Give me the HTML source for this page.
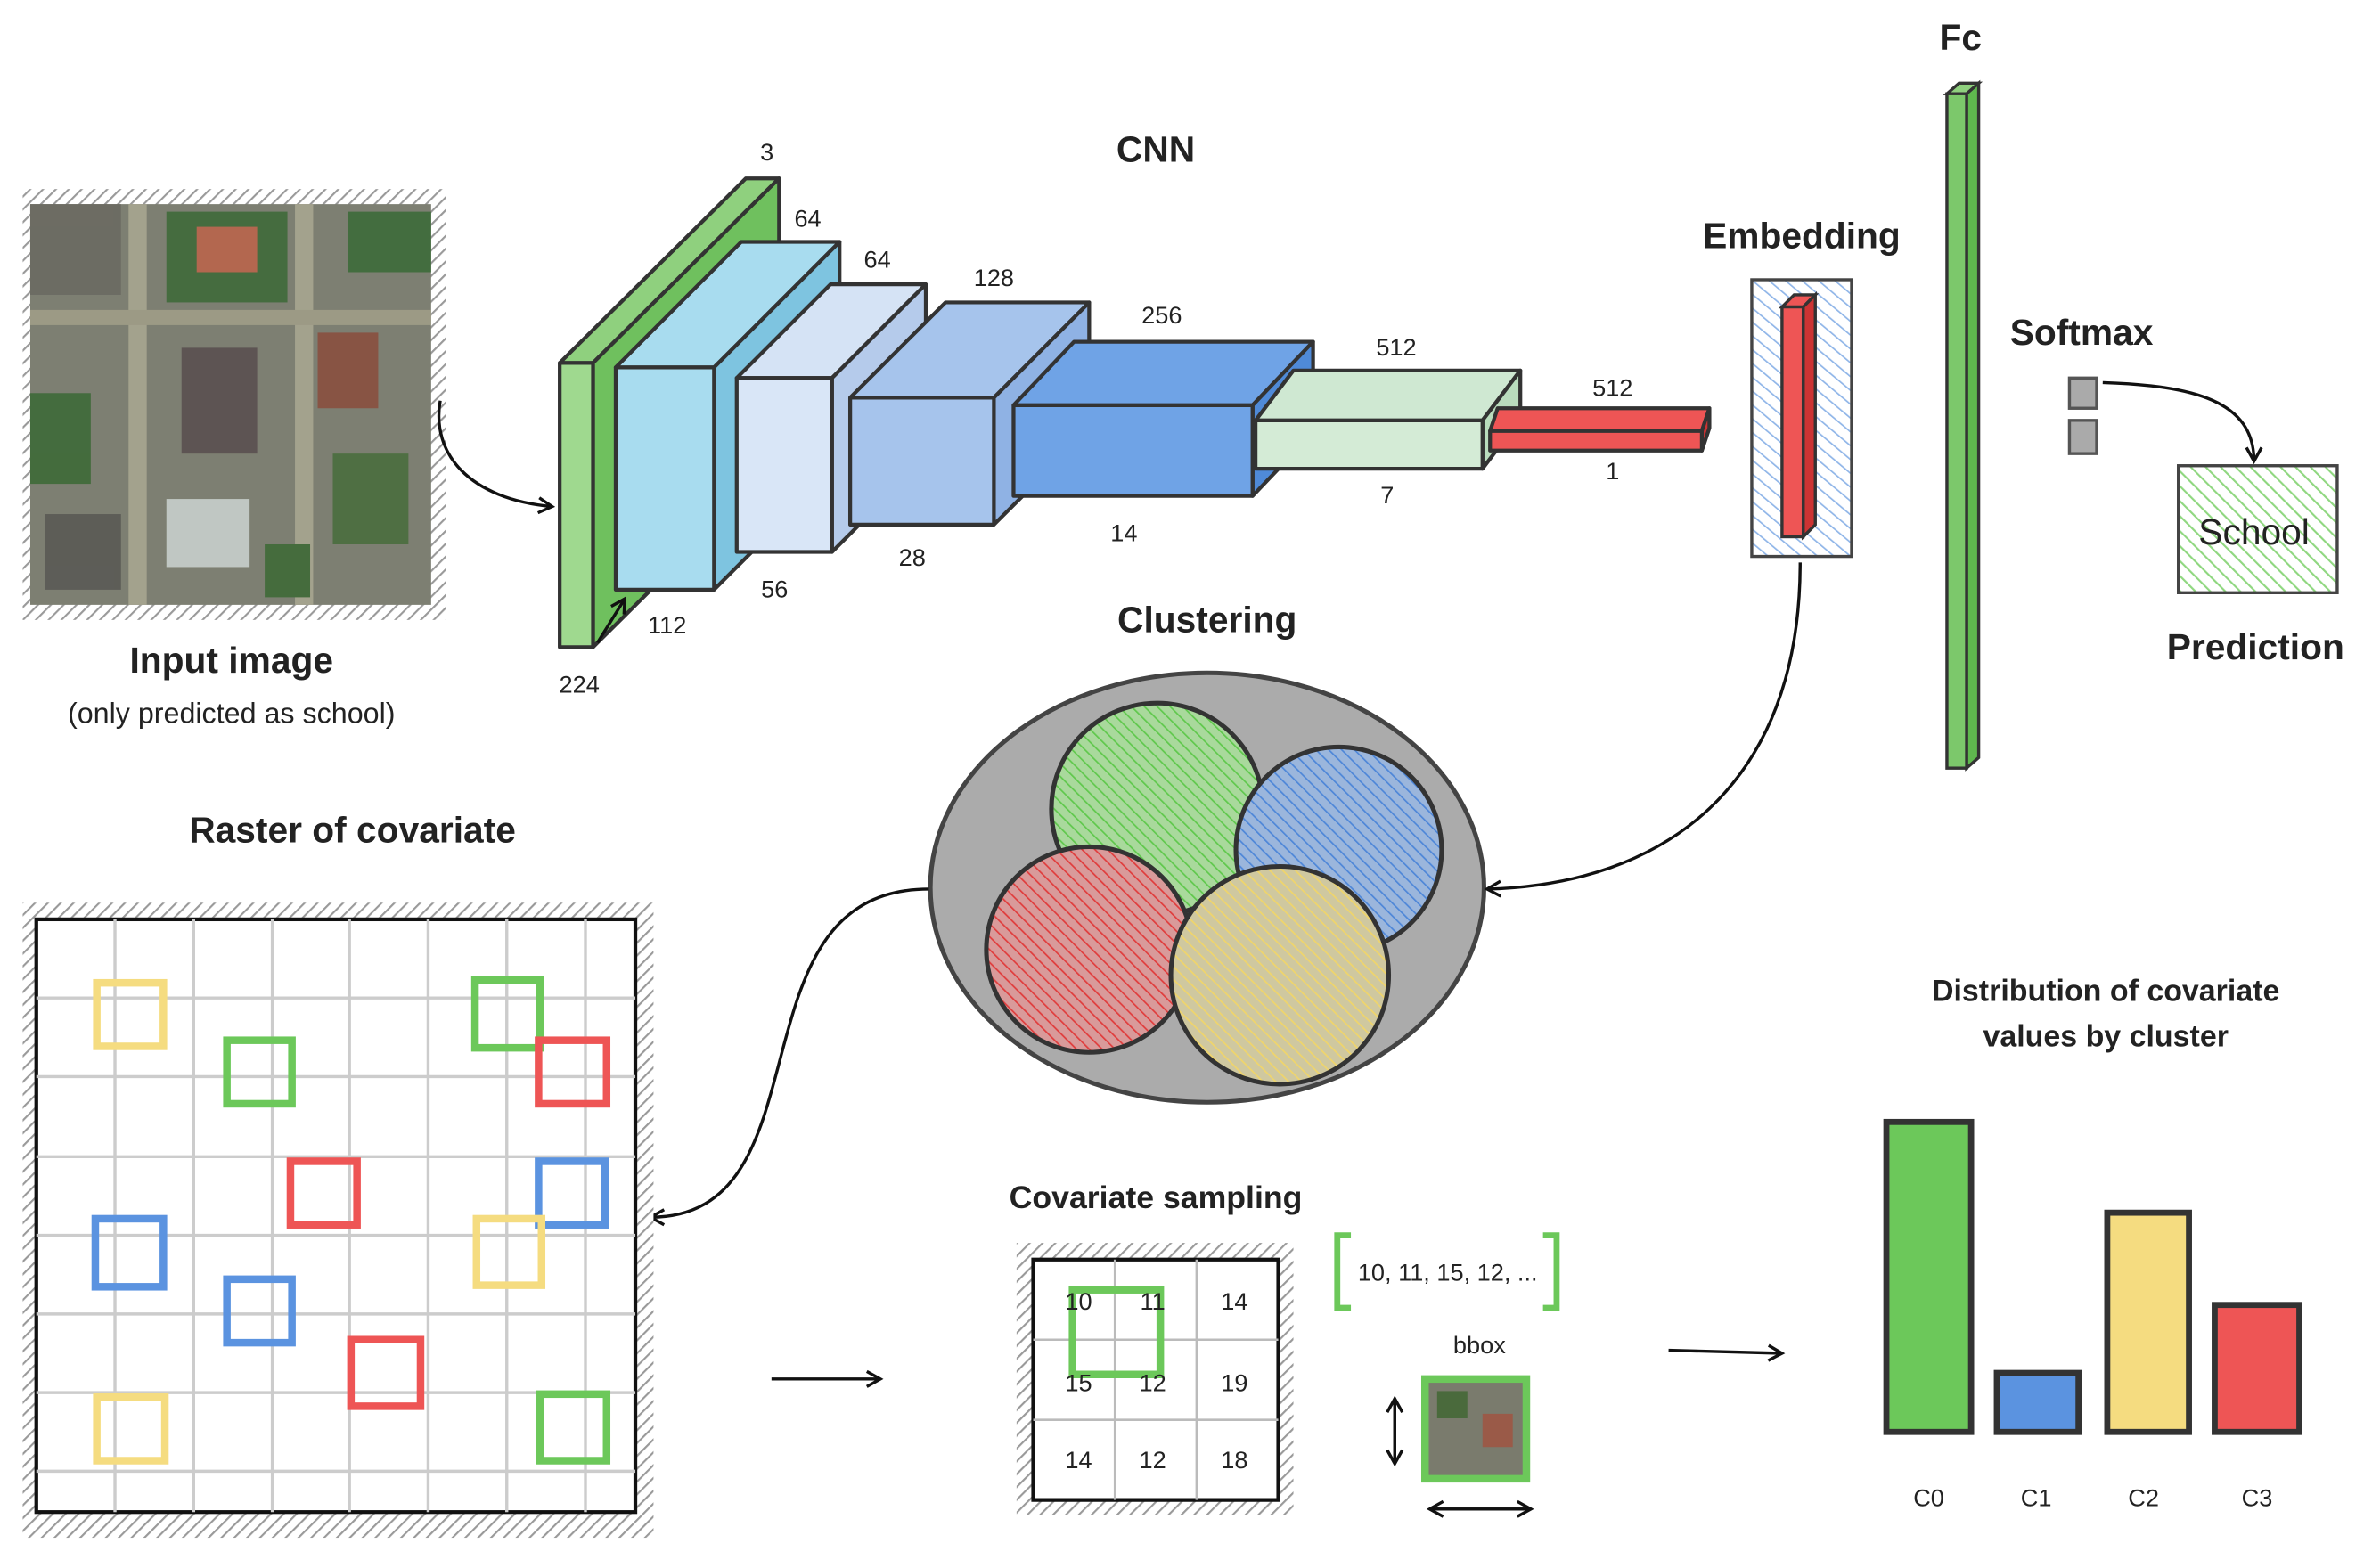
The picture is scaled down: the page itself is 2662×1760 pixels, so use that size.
<!DOCTYPE html>
<html><head><meta charset="utf-8"><style>html,body{margin:0;padding:0;background:#fff}svg{display:block}text{font-family:"Liberation Sans",sans-serif;fill:#222}</style></head><body>
<svg width="2662" height="1760" viewBox="0 0 1568 1037" preserveAspectRatio="none" xmlns="http://www.w3.org/2000/svg">
<defs>
<pattern id="hg" width="6" height="6" patternUnits="userSpaceOnUse" patternTransform="rotate(45)"><rect width="6" height="6" fill="#fff"/><line x1="0" y1="0" x2="0" y2="6" stroke="#999" stroke-width="2.5"/></pattern>
<pattern id="hb" width="7" height="7" patternUnits="userSpaceOnUse" patternTransform="rotate(-50)"><rect width="7" height="7" fill="#fff"/><line x1="0" y1="0" x2="0" y2="7" stroke="#8fb5e8" stroke-width="2"/></pattern>
<pattern id="hgr" width="7" height="7" patternUnits="userSpaceOnUse" patternTransform="rotate(-45)"><rect width="7" height="7" fill="#fff"/><line x1="0" y1="0" x2="0" y2="7" stroke="#8fd77f" stroke-width="2.5"/></pattern>
<pattern id="cg" width="6" height="6" patternUnits="userSpaceOnUse" patternTransform="rotate(-45)"><rect width="6" height="6" fill="#a9d99c"/><line x1="0" y1="0" x2="0" y2="6" stroke="#5fc84c" stroke-width="2"/></pattern>
<pattern id="cb" width="6" height="6" patternUnits="userSpaceOnUse" patternTransform="rotate(-45)"><rect width="6" height="6" fill="#9bb6dc"/><line x1="0" y1="0" x2="0" y2="6" stroke="#4d86d8" stroke-width="2"/></pattern>
<pattern id="cr" width="6" height="6" patternUnits="userSpaceOnUse" patternTransform="rotate(-45)"><rect width="6" height="6" fill="#d99a9a"/><line x1="0" y1="0" x2="0" y2="6" stroke="#e03c3c" stroke-width="2"/></pattern>
<pattern id="cy" width="6" height="6" patternUnits="userSpaceOnUse" patternTransform="rotate(-45)"><rect width="6" height="6" fill="#cfc8a0"/><line x1="0" y1="0" x2="0" y2="6" stroke="#f0d56a" stroke-width="2"/></pattern>
<marker id="ar" markerWidth="12" markerHeight="12" refX="10" refY="6" orient="auto" markerUnits="userSpaceOnUse"><path d="M1,1 L10,6 L1,11" fill="none" stroke="#111" stroke-width="2"/></marker>
</defs>

<!-- Input image -->
<rect x="15" y="125" width="280" height="285" fill="url(#hg)"/>
<rect x="20" y="135" width="265" height="265" fill="#7d7f72"/>
<g opacity="0.9">
<rect x="20" y="135" width="60" height="60" fill="#6b6a62"/><rect x="110" y="140" width="80" height="60" fill="#3f6b3a"/><rect x="130" y="150" width="40" height="30" fill="#b9654c"/>
<rect x="230" y="140" width="55" height="40" fill="#3d6c3a"/><rect x="20" y="260" width="40" height="60" fill="#3e6a38"/><rect x="110" y="330" width="55" height="45" fill="#c8cfcc"/>
<rect x="120" y="230" width="50" height="70" fill="#5a5050"/><rect x="85" y="135" width="12" height="265" fill="#a8a690"/><rect x="195" y="135" width="12" height="265" fill="#a8a690"/>
<rect x="20" y="205" width="265" height="10" fill="#a09e88"/><rect x="210" y="220" width="40" height="50" fill="#8a5040"/><rect x="220" y="300" width="50" height="60" fill="#4a6e3e"/>
<rect x="30" y="340" width="50" height="50" fill="#5a5a55"/><rect x="175" y="360" width="30" height="35" fill="#3f6a38"/>
</g>
<text x="153" y="445" font-size="24" font-weight="bold" text-anchor="middle">Input image</text>
<text x="153" y="478" font-size="19" text-anchor="middle">(only predicted as school)</text>
<path d="M291,265 C285,300 310,330 365,335" fill="none" stroke="#111" stroke-width="2" marker-end="url(#ar)"/>

<!-- CNN blocks -->
<g stroke="#333" stroke-width="2.5" stroke-linejoin="round">
<polygon points="370,240 493,118 515,118 392,240" fill="#8fd07e"/><polygon points="392,240 515,118 515,306 392,428" fill="#6fc05e"/><rect x="370" y="240" width="22" height="188" fill="#9fd98f"/>
<polygon points="407,243 490,160 555,160 472,243" fill="#a8dcef"/><polygon points="472,243 555,160 555,307 472,390" fill="#7ec4e0"/><rect x="407" y="243" width="65" height="147" fill="#a8dcef"/>
<polygon points="487,250 549,188 612,188 550,250" fill="#d5e3f5"/><polygon points="550,250 612,188 612,303 550,365" fill="#b5cbeb"/><rect x="487" y="250" width="63" height="115" fill="#d9e6f7"/>
<polygon points="562,263 625,200 720,200 657,263" fill="#a6c4ec"/><polygon points="657,263 720,200 720,284 657,347" fill="#8fb2e4"/><rect x="562" y="263" width="95" height="84" fill="#a6c4ec"/>
<polygon points="670,268 710,226 868,226 828,268" fill="#6fa3e6"/><polygon points="828,268 868,226 868,286 828,328" fill="#4f8ad8"/><rect x="670" y="268" width="158" height="60" fill="#6fa3e6"/>
<polygon points="830,278 855,245 1005,245 980,278" fill="#cfe8d2"/><polygon points="980,278 1005,245 1005,277 980,310" fill="#b9dcbd"/><rect x="830" y="278" width="150" height="32" fill="#d4ebd6"/>
<polygon points="985,285 990,270 1130,270 1125,285" fill="#e55"/><polygon points="1125,285 1130,270 1130,283 1125,298" fill="#c33"/><rect x="985" y="285" width="140" height="13" fill="#e55"/>
</g>
<path d="M395,425 L413,396" stroke="#111" stroke-width="2" marker-end="url(#ar)"/>
<g font-size="16" text-anchor="middle">
<text x="507" y="106">3</text><text x="534" y="150">64</text><text x="580" y="177">64</text><text x="657" y="189">128</text><text x="768" y="214">256</text><text x="923" y="235">512</text><text x="1066" y="262">512</text>
<text x="383" y="458">224</text><text x="441" y="419">112</text><text x="512" y="395">56</text><text x="603" y="374">28</text><text x="743" y="358">14</text><text x="917" y="333">7</text><text x="1066" y="317">1</text>
</g>
<text x="764" y="107" font-size="24" font-weight="bold" text-anchor="middle">CNN</text>

<!-- Embedding -->
<text x="1191" y="164" font-size="24" font-weight="bold" text-anchor="middle">Embedding</text>
<rect x="1158" y="185" width="66" height="183" fill="url(#hb)" stroke="#444" stroke-width="2"/>
<polygon points="1178,203 1186,195 1200,195 1192,203" fill="#e55" stroke="#333" stroke-width="2"/>
<polygon points="1192,203 1200,195 1200,347 1192,355" fill="#c33" stroke="#333" stroke-width="2"/>
<rect x="1178" y="203" width="14" height="152" fill="#e55" stroke="#333" stroke-width="2"/>

<!-- Fc -->
<text x="1296" y="33" font-size="24" font-weight="bold" text-anchor="middle">Fc</text>
<polygon points="1287,62 1295,55 1308,55 1300,62" fill="#8fd07e" stroke="#333" stroke-width="2"/>
<polygon points="1300,62 1308,55 1308,501 1300,508" fill="#5fb84e" stroke="#333" stroke-width="2"/>
<rect x="1287" y="62" width="13" height="446" fill="#7cc86b" stroke="#333" stroke-width="2"/>

<!-- Softmax -->
<text x="1376" y="228" font-size="24" font-weight="bold" text-anchor="middle">Softmax</text>
<rect x="1368" y="250" width="18" height="20" fill="#aaa" stroke="#555" stroke-width="2"/>
<rect x="1368" y="278" width="18" height="22" fill="#aaa" stroke="#555" stroke-width="2"/>
<path d="M1390,253 C1450,255 1490,265 1490,305" fill="none" stroke="#111" stroke-width="2" marker-end="url(#ar)"/>
<rect x="1440" y="308" width="105" height="84" fill="url(#hgr)" stroke="#444" stroke-width="2"/>
<text x="1490" y="360" font-size="24" text-anchor="middle">School</text>
<text x="1491" y="436" font-size="24" font-weight="bold" text-anchor="middle">Prediction</text>

<!-- Clustering -->
<text x="798" y="418" font-size="24" font-weight="bold" text-anchor="middle">Clustering</text>
<ellipse cx="798" cy="587" rx="183" ry="142" fill="#ababab" stroke="#444" stroke-width="3"/>
<circle cx="765" cy="535" r="70" fill="url(#cg)" stroke="#333" stroke-width="3"/>
<circle cx="885" cy="562" r="68" fill="url(#cb)" stroke="#333" stroke-width="3"/>
<circle cx="720" cy="628" r="68" fill="url(#cr)" stroke="#333" stroke-width="3"/>
<circle cx="846" cy="645" r="72" fill="url(#cy)" stroke="#333" stroke-width="3"/>
<path d="M1190,372 C1190,520 1100,585 983,588" fill="none" stroke="#111" stroke-width="2" marker-end="url(#ar)"/>
<path d="M614,588 C480,588 550,805 430,805" fill="none" stroke="#111" stroke-width="2" marker-end="url(#ar)"/>

<!-- Raster -->
<text x="233" y="557" font-size="24" font-weight="bold" text-anchor="middle">Raster of covariate</text>
<rect x="15" y="597" width="417" height="420" fill="url(#hg)"/>
<rect x="24" y="608" width="396" height="392" fill="#fff" stroke="#111" stroke-width="2.5"/>
<g stroke="#ccc" stroke-width="2">
<line x1="76" y1="608" x2="76" y2="1000"/><line x1="128" y1="608" x2="128" y2="1000"/><line x1="180" y1="608" x2="180" y2="1000"/><line x1="231" y1="608" x2="231" y2="1000"/><line x1="283" y1="608" x2="283" y2="1000"/><line x1="335" y1="608" x2="335" y2="1000"/><line x1="387" y1="608" x2="387" y2="1000"/>
<line x1="24" y1="660" x2="420" y2="660"/><line x1="24" y1="712" x2="420" y2="712"/><line x1="24" y1="765" x2="420" y2="765"/><line x1="24" y1="817" x2="420" y2="817"/><line x1="24" y1="869" x2="420" y2="869"/><line x1="24" y1="921" x2="420" y2="921"/><line x1="24" y1="973" x2="420" y2="973"/>
</g>
<g fill="none" stroke-width="5">
<rect x="64" y="650" width="44" height="42" stroke="#f5dc80"/>
<rect x="150" y="688" width="43" height="42" stroke="#6cc85a"/>
<rect x="314" y="648" width="43" height="45" stroke="#6cc85a"/>
<rect x="356" y="688" width="45" height="42" stroke="#e55"/>
<rect x="192" y="768" width="44" height="42" stroke="#e55"/>
<rect x="356" y="768" width="44" height="42" stroke="#5b93e0"/>
<rect x="63" y="806" width="45" height="45" stroke="#5b93e0"/>
<rect x="315" y="806" width="43" height="44" stroke="#f5dc80"/>
<rect x="150" y="846" width="43" height="42" stroke="#5b93e0"/>
<rect x="232" y="886" width="46" height="44" stroke="#e55"/>
<rect x="64" y="924" width="45" height="42" stroke="#f5dc80"/>
<rect x="357" y="922" width="44" height="44" stroke="#6cc85a"/>
</g>
<path d="M510,912 L582,912" stroke="#111" stroke-width="2" marker-end="url(#ar)"/>

<!-- Covariate sampling -->
<text x="764" y="799" font-size="21" font-weight="bold" text-anchor="middle">Covariate sampling</text>
<rect x="672" y="822" width="183" height="180" fill="url(#hg)"/>
<rect x="683" y="833" width="162" height="159" fill="#fff" stroke="#111" stroke-width="2.5"/>
<g stroke="#bbb" stroke-width="1.5"><line x1="737" y1="833" x2="737" y2="992"/><line x1="791" y1="833" x2="791" y2="992"/><line x1="683" y1="886" x2="845" y2="886"/><line x1="683" y1="939" x2="845" y2="939"/></g>
<rect x="709" y="853" width="58" height="56" fill="none" stroke="#6cc85a" stroke-width="5"/>
<g font-size="16" text-anchor="middle">
<text x="713" y="866">10</text><text x="762" y="866">11</text><text x="816" y="866">14</text>
<text x="713" y="920">15</text><text x="762" y="920">12</text><text x="816" y="920">19</text>
<text x="713" y="971">14</text><text x="762" y="971">12</text><text x="816" y="971">18</text>
</g>
<path d="M893,817 L884,817 L884,865 L893,865 M1020,817 L1029,817 L1029,865 L1020,865" fill="none" stroke="#6cc85a" stroke-width="4"/>
<text x="957" y="847" font-size="16" text-anchor="middle">10, 11, 15, 12, ...</text>
<text x="978" y="895" font-size="16" text-anchor="middle">bbox</text>
<rect x="942" y="912" width="67" height="66" fill="#7a7b6d" stroke="#6cc85a" stroke-width="5"/>
<rect x="950" y="920" width="20" height="18" fill="#4a6a3c"/><rect x="980" y="935" width="20" height="22" fill="#9a5a48"/>
<path d="M922,925 L922,968" stroke="#111" stroke-width="2" marker-end="url(#ar)"/>
<path d="M922,968 L922,925" stroke="#111" stroke-width="2" marker-end="url(#ar)"/>
<path d="M945,998 L1012,998" stroke="#111" stroke-width="2" marker-end="url(#ar)"/>
<path d="M1012,998 L945,998" stroke="#111" stroke-width="2" marker-end="url(#ar)"/>
<path d="M1103,893 L1178,895" stroke="#111" stroke-width="2" marker-end="url(#ar)"/>

<!-- Distribution -->
<text x="1392" y="662" font-size="20" font-weight="bold" text-anchor="middle">Distribution of covariate</text>
<text x="1392" y="692" font-size="20" font-weight="bold" text-anchor="middle">values by cluster</text>
<g stroke="#333" stroke-width="4">
<rect x="1247" y="742" width="56" height="205" fill="#6cc85a"/>
<rect x="1320" y="908" width="54" height="39" fill="#5b93e0"/>
<rect x="1393" y="802" width="54" height="145" fill="#f5dc80"/>
<rect x="1464" y="863" width="56" height="84" fill="#e55"/>
</g>
<g font-size="16" text-anchor="middle"><text x="1275" y="996">C0</text><text x="1346" y="996">C1</text><text x="1417" y="996">C2</text><text x="1492" y="996">C3</text></g>
</svg>
</body></html>
